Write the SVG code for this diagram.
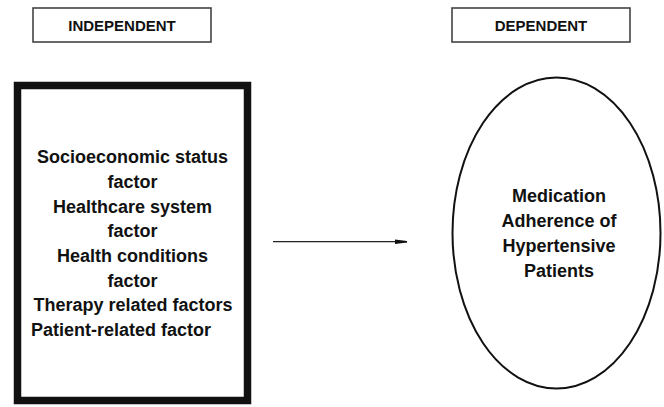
<svg xmlns="http://www.w3.org/2000/svg" width="664" height="407" viewBox="0 0 664 407">
<style>
.lbl{font-family:"Liberation Sans",Arial,sans-serif;font-weight:bold;font-size:15px;fill:#111;text-anchor:middle}
.t{font-family:"Liberation Sans",Arial,sans-serif;font-weight:bold;font-size:18px;fill:#111;text-anchor:middle}
.hdr{fill:#fff;stroke:#444;stroke-width:1.6}
</style>
<defs>
<marker id="ah" markerWidth="12" markerHeight="6" refX="12" refY="3" orient="auto" markerUnits="userSpaceOnUse">
<path d="M0,0.8 L12,2.2 L12,3.8 L0,5.2 Z" fill="#111"/>
</marker>
</defs>
<rect width="664" height="407" fill="#fff"/>
<g id="independent-label">
<rect class="hdr" x="33" y="8" width="178" height="34"/>
<text class="lbl" x="122" y="30.5">INDEPENDENT</text>
</g>
<g id="dependent-label">
<rect class="hdr" x="452" y="8" width="178" height="34"/>
<text class="lbl" x="541" y="30.5">DEPENDENT</text>
</g>
<g id="independent-box">
<rect x="17.5" y="85.5" width="230" height="315" fill="#fff" stroke="#111" stroke-width="7.5"/>
<text class="t" x="132.5" y="163">Socioeconomic status</text>
<text class="t" x="132.5" y="187.5">factor</text>
<text class="t" x="132.5" y="212.5">Healthcare system</text>
<text class="t" x="132.5" y="237">factor</text>
<text class="t" x="132.5" y="262">Health conditions</text>
<text class="t" x="132.5" y="286.5">factor</text>
<text class="t" x="133" y="311">Therapy related factors</text>
<text class="t" x="121" y="335.5">Patient-related factor</text>
</g>
<g id="dependent-ellipse">
<ellipse cx="556.5" cy="233" rx="104" ry="155.5" fill="#fff" stroke="#111" stroke-width="2"/>
<text class="t" x="559" y="202">Medication</text>
<text class="t" x="559" y="226.7">Adherence of</text>
<text class="t" x="559" y="251.5">Hypertensive</text>
<text class="t" x="559" y="276.5">Patients</text>
</g>
<g id="connectors">
<line x1="273" y1="241.7" x2="407" y2="241.7" stroke="#222" stroke-width="1.3" marker-end="url(#ah)"/>
</g>
</svg>
